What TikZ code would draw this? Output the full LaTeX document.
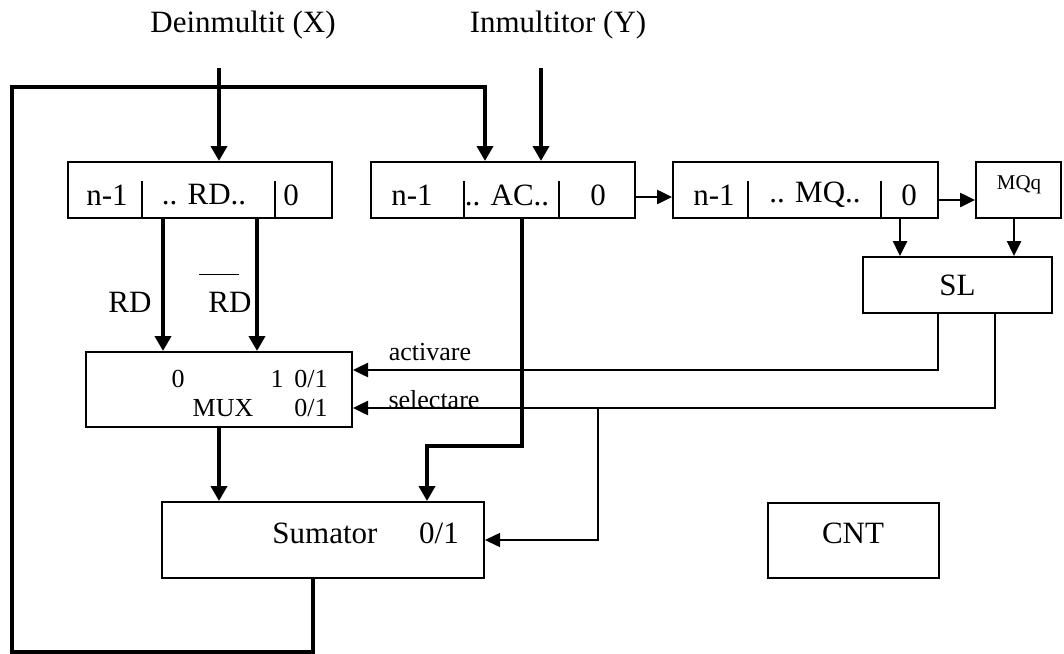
\documentclass[tikz,border=0pt]{standalone}
\usepackage{fontspec}
\setmainfont{Liberation Serif}
\usetikzlibrary{arrows.meta}

\tikzset{
  blk/.style={draw, line width=2pt, inner sep=0pt},
  bus/.style={line width=4pt, -{Triangle[length=15pt,width=16pt]}},
  ctl/.style={line width=2.5pt, -{Triangle[length=15pt,width=14pt]}},
  wire/.style={line width=1.5pt},
  lbl/.style={inner sep=0pt, font=\fontsize{31}{36}\selectfont},
  small/.style={inner sep=0pt, font=\fontsize{26}{30}\selectfont},
}

\begin{document}
\begin{tikzpicture}[x=1pt,y=-1pt]
\useasboundingbox (0,0) rectangle (1064,653);

% operands
\node[lbl] (tx) at (243,25) {Deinmultit (X)};
\node[lbl] (ty) at (558,25) {Inmultitor (Y)};
\coordinate (xin) at (219,68);
\coordinate (yin) at (541,68);

% registers
\node[blk, minimum width=264pt, minimum height=56pt] (rd) at (200,190) {};
\node[blk, minimum width=264pt, minimum height=56pt] (ac) at (503,190) {};
\node[blk, minimum width=265pt, minimum height=56pt] (mq) at (805.5,190) {};
\node[blk, minimum width=85pt, minimum height=56pt] (mqq) at (1018.5,190) {};
\foreach \r/\a/\b in {rd/75/208, ac/94/189, mq/76/209} {
  \draw[wire] (\r.south west) ++(\a,0) -- ++(0,-38);
  \draw[wire] (\r.south west) ++(\b,0) -- ++(0,-38);
}
\node[lbl] (rdhi) at (107,195) {n-1};
\node[lbl] (rdmid) at (204,195) {.. RD..};
\node[lbl] (rdlo) at (291,195) {0};
\node[lbl] (achi) at (412,195) {n-1};
\node[lbl] (acmid) at (507,195) {.. AC..};
\node[lbl] (aclo) at (598,195) {0};
\node[lbl] (mqhi) at (714,195) {n-1};
\node[lbl] (mqmid) at (815,195) {.. MQ..};
\node[lbl] (mqlo) at (909,195) {0};
\node[inner sep=0pt, font=\fontsize{21}{24}\selectfont] (mqqt) at (1019,185) {MQq};

% logic blocks
\node[blk, lbl, minimum width=189pt, minimum height=56pt] (sl) at (957.5,285) {SL};
\node[blk, minimum width=266pt, minimum height=75pt] (mux) at (219,389.5) {};
\node[blk, minimum width=322pt, minimum height=76pt] (sum) at (323,540) {};
\node[blk, minimum width=171pt, minimum height=75pt] (cnt) at (853.5,540.5) {};

\node[small] (m0) at (178,379) {0};
\node[small] (m1) at (277,379) {1};
\node[small] (men) at (311,379) {0/1};
\node[small] (mname) at (223,408) {MUX};
\node[small] (msel) at (311,408) {0/1};
\node[lbl] (sname) at (325,533) {Sumator};
\node[lbl] (sop) at (439,533) {0/1};
\node[lbl] (cname) at (853,533) {CNT};

\node[lbl] (rdt) at (130,302) {RD};
\node[lbl] (rdn) at (230,302) {RD};
\draw[wire] ([shift={(-9pt,17pt)}]rdn.north west) -- ++(40,0);

\node[small] (act) at (430,352) {activare};
\node[small] (sel) at (434,400) {selectare};

% data paths
\draw[bus] (xin) -- (xin |- rd.north);
\draw[bus] (yin) -- (yin |- ac.north);
\draw[bus] ([xshift=-37pt]rd.south) -- ([xshift=-37pt]rd.south |- mux.north);
\draw[bus] ([xshift=57pt]rd.south) -- ([xshift=57pt]rd.south |- mux.north);
\draw[bus] (mux.south) -- (mux.south |- sum.north);
\draw[bus] ([xshift=19pt]ac.south) -- ++(0,227) -| ([xshift=104pt]sum.north);
\draw[bus] ([xshift=-10pt]sum.south) -- ++(0,73) -| (12,87) -| ([xshift=-18pt]ac.north);

% shift and control
\draw[ctl] ([yshift=-7pt]ac.east) -- ([yshift=-7pt]ac.east -| mq.west);
\draw[ctl] ([yshift=-10pt]mq.east) -- ([yshift=-10pt]mq.east -| mqq.west);
\draw[ctl] ([xshift=94.5pt]mq.south) -- ([xshift=94.5pt]mq.south |- sl.north);
\draw[ctl] ([xshift=-4.5pt]mqq.south) -- ([xshift=-4.5pt]mqq.south |- sl.north);
\draw[ctl] ([xshift=-19.5pt]sl.south) |- ([yshift=19.5pt]mux.east);
\draw[ctl] ([xshift=37.5pt]sl.south) |- ([yshift=-18.5pt]mux.east);
\coordinate (br) at (598,408);
\draw[wire, -{Triangle[length=15pt,width=14pt]}] (br) |- (sum.east);
\end{tikzpicture}
\end{document}
